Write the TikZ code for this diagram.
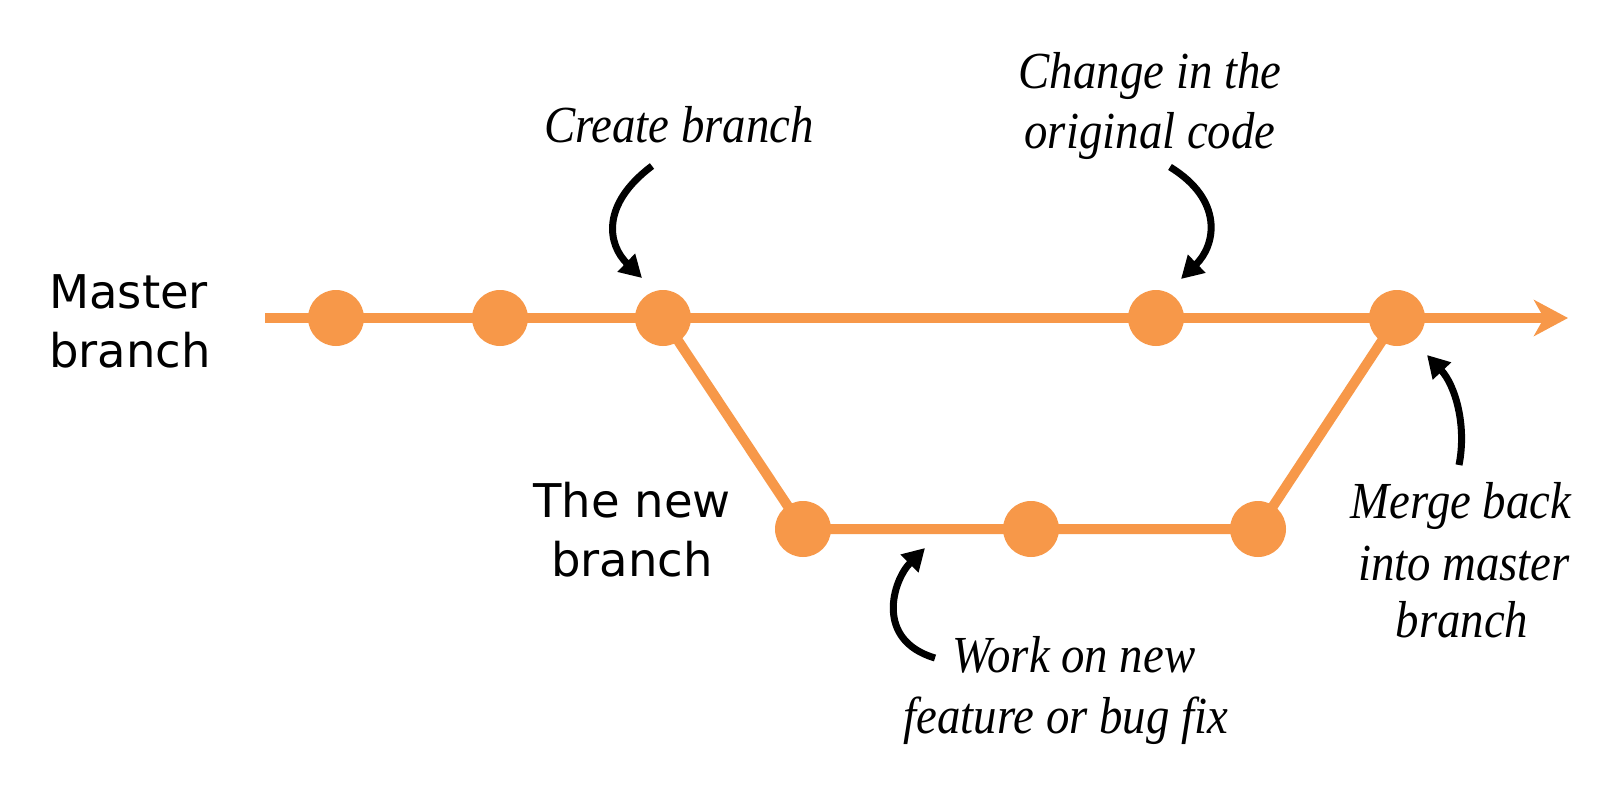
\documentclass[tikz,border=0pt]{standalone}
\usepackage{fontspec}
\usetikzlibrary{arrows.meta}
\newfontfamily\sansf{DejaVu Sans}
\newfontfamily\labf{Liberation Serif}[FakeStretch=0.9]
\definecolor{gitorange}{RGB}{247,152,73}
\begin{document}
\begin{tikzpicture}[x=1pt,y=-1pt,
  commit/.style={circle, fill=gitorange, minimum size=56pt, inner sep=0pt},
  branchline/.style={draw=gitorange, line width=10pt, line join=round},
  note/.style={-{Triangle[length=22pt,width=24pt]}, line width=7pt, draw=black},
  sanslabel/.style={font=\sansf\fontsize{46.5}{59}\selectfont, inner sep=0pt},
  itlabel/.style={font=\labf\itshape\fontsize{52}{60}\selectfont, anchor=base, inner sep=0pt}]
\fill[white] (0,0) rectangle (1623,798);
\useasboundingbox (0,0) rectangle (1623,798);
% commits
\node[commit] (m1) at (336,318) {};
\node[commit] (m2) at (500,318) {};
\node[commit] (m3) at (663,318) {};
\node[commit] (m4) at (1156,318) {};
\node[commit] (m5) at (1397,318) {};
\node[commit] (b1) at (803,529) {};
\node[commit] (b2) at (1031,529) {};
\node[commit] (b3) at (1258,529) {};
\coordinate (start) at (265,318);
\coordinate (end) at (1568,318);
% branch lines
\draw[branchline, -{Stealth[length=34pt,width=36pt,inset=10pt]}] (start) -- (m1.center) -- (m2.center) -- (m3.center) -- (m4.center) -- (m5.center) -- (end);
\draw[branchline] (m3.center) -- (b1.center) -- (b2.center) -- (b3.center) -- (m5.center);
% sans labels
\node[sanslabel, anchor=base west] (master1) at (49,308) {Master};
\node[sanslabel, anchor=base west] (master2) at (49,367) {branch};
\node[sanslabel, anchor=base] (new1) at (632,517) {The new};
\node[sanslabel, anchor=base] (new2) at (632,576) {branch};
% italic labels
\node[itlabel] (create) at (679,142) {Create branch};
\node[itlabel] (change1) at (1150,88) {Change in the};
\node[itlabel] (change2) at (1150,148) {original code};
\node[itlabel] (merge1) at (1461,518) {Merge back};
\node[itlabel] (merge2) at (1464,580) {into master};
\node[itlabel] (merge3) at (1462,637) {branch};
\node[itlabel] (work1) at (1074,672) {Work on new};
\node[itlabel] (work2) at (1066,733) {feature or bug fix};
% annotation arrows
\coordinate (ca) at (652,166); \coordinate (cb) at (642,278);
\coordinate (ga) at (1170,167); \coordinate (gb) at (1181,279);
\coordinate (ma) at (1459,465); \coordinate (mb) at (1427,355);
\coordinate (wa) at (935,658); \coordinate (wb) at (925,548);
\draw[note] (ca) .. controls (600,205) and (608,245) .. (cb);
\draw[note] (ga) .. controls (1224,200) and (1216,245) .. (gb);
\draw[note] (ma) .. controls (1467,425) and (1455,385) .. (mb);
\draw[note] (wa) .. controls (874,640) and (893,580) .. (wb);
\end{tikzpicture}
\end{document}
